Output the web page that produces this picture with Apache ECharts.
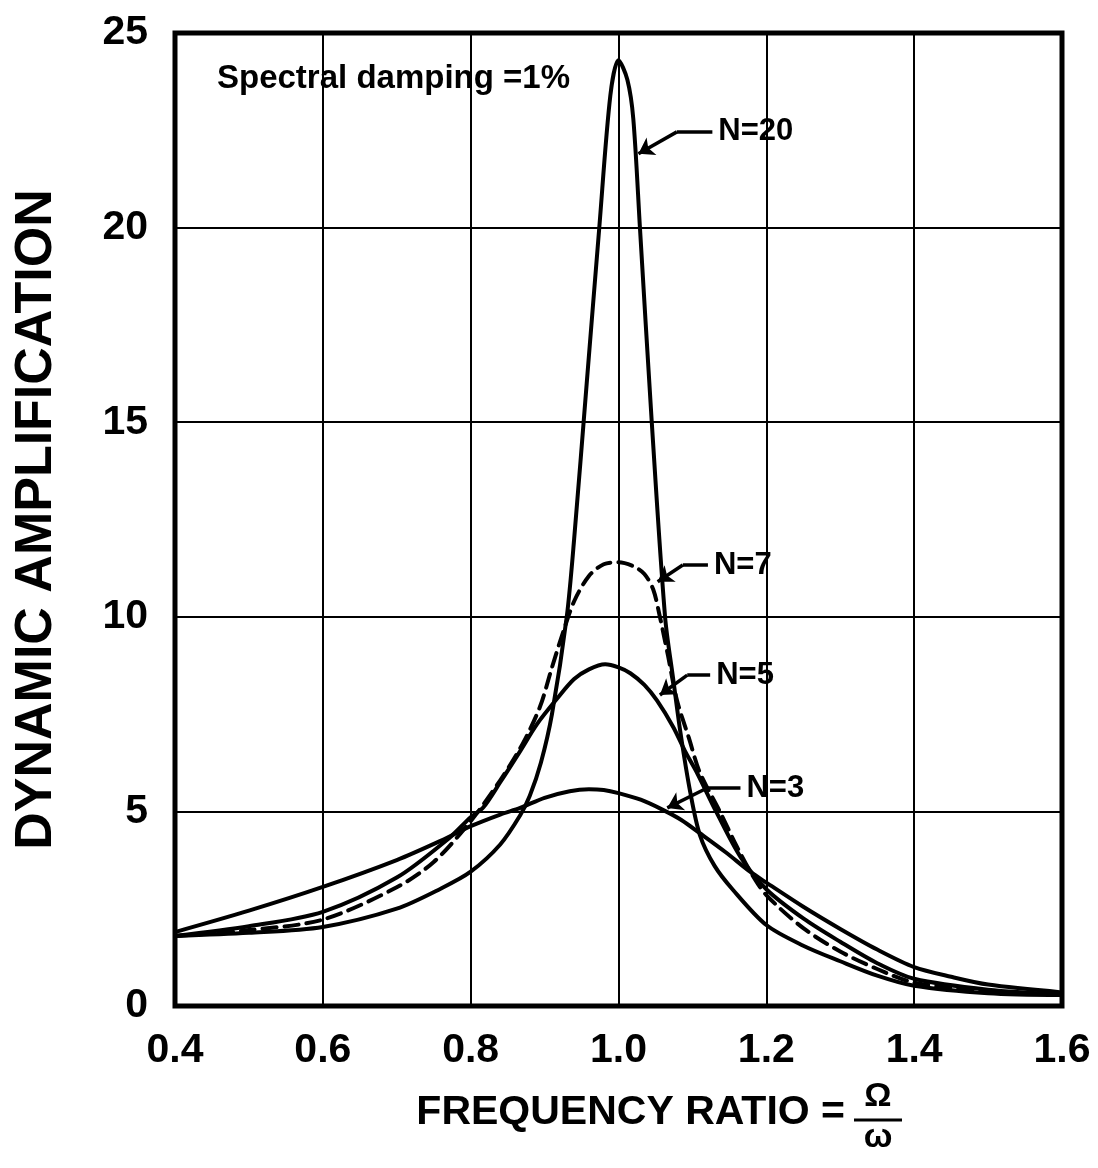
<!DOCTYPE html>
<html>
<head>
<meta charset="utf-8">
<script src="https://cdn.jsdelivr.net/npm/echarts@6/dist/echarts.min.js"></script>
<style>
html,body{margin:0;padding:0;background:#fff;}
#c{width:1098px;height:1168px;}
</style>
</head>
<body>
<div id="c"></div>
<script>
// ---- data ----
const xTicks = [0.4, 0.6, 0.8, 1.0, 1.2, 1.4, 1.6];
const yTicks = [0, 5, 10, 15, 20, 25];

const n20 = [[0.40,1.80],[0.50,1.88],[0.60,2.03],[0.70,2.50],[0.76,3.02],[0.80,3.45],[0.84,4.15],[0.867,4.9],[0.88,5.4],[0.895,6.25],[0.91,7.5],[0.93,10.0],[0.94,12.0],[0.957,16.0],[0.974,20.0],[0.989,23.4],[1.0,24.3],[1.012,23.8],[1.02,22.8],[1.029,20.0],[1.045,15.0],[1.063,10.0],[1.074,8.4],[1.084,7.0],[1.097,5.5],[1.11,4.4],[1.13,3.6],[1.155,2.98],[1.2,2.08],[1.25,1.55],[1.3,1.15],[1.35,0.78],[1.4,0.52],[1.5,0.33],[1.6,0.28]];

const n7 = [[0.40,1.80],[0.50,1.95],[0.60,2.22],[0.70,3.05],[0.75,3.7],[0.80,4.75],[0.84,5.8],[0.871,6.76],[0.894,7.7],[0.91,8.7],[0.925,9.6],[0.94,10.4],[0.96,11.05],[0.98,11.35],[1.0,11.4],[1.02,11.3],[1.035,11.1],[1.047,10.7],[1.056,10.0],[1.067,9.0],[1.079,7.86],[1.095,6.9],[1.11,6.0],[1.137,5.0],[1.16,4.1],[1.18,3.4],[1.2,2.85],[1.25,2.0],[1.3,1.4],[1.35,0.95],[1.4,0.6],[1.5,0.38],[1.6,0.3]];

const n5 = [[0.40,1.80],[0.50,2.05],[0.60,2.42],[0.70,3.3],[0.77,4.3],[0.80,4.85],[0.817,5.1],[0.84,5.75],[0.867,6.55],[0.89,7.25],[0.917,7.9],[0.94,8.4],[0.96,8.65],[0.982,8.78],[1.0,8.7],[1.016,8.55],[1.035,8.25],[1.052,7.85],[1.074,7.17],[1.09,6.55],[1.106,6.0],[1.133,4.96],[1.165,3.83],[1.2,3.0],[1.25,2.25],[1.3,1.65],[1.35,1.1],[1.4,0.7],[1.5,0.42],[1.6,0.3]];

const n3 = [[0.40,1.90],[0.50,2.45],[0.60,3.06],[0.70,3.75],[0.76,4.25],[0.80,4.62],[0.84,4.92],[0.867,5.09],[0.90,5.35],[0.934,5.52],[0.96,5.57],[0.98,5.55],[1.0,5.47],[1.03,5.3],[1.06,5.04],[1.085,4.78],[1.11,4.44],[1.145,3.95],[1.178,3.45],[1.2,3.17],[1.25,2.55],[1.3,1.98],[1.35,1.45],[1.4,1.0],[1.45,0.75],[1.5,0.55],[1.6,0.35]];

// annotation leaders: label anchor, elbow, arrow tip (data coords)
const labelNames = ['N=20', 'N=7', 'N=5', 'N=3'];
const leaderPaths = [
  [[1.127,22.46],[1.079,22.46],[1.027,21.9]],
  [[1.121,11.33],[1.087,11.33],[1.053,10.9]],
  [[1.124,8.5],[1.093,8.5],[1.056,7.99]],
  [[1.165,5.6],[1.12,5.6],[1.066,5.09]]
];

const FONT = '"Liberation Sans", Arial, Helvetica, sans-serif';
const chart = echarts.init(document.getElementById('c'), null, {renderer:'canvas'});

function curve(name, data, dashed){
  return {
    name: name, type: 'line', data: data, showSymbol: false, smooth: 0.3,
    lineStyle: {color:'#000', width: 4, type: dashed ? [14, 8] : 'solid', cap:'round', join:'round'},
    z: 3, silent: true
  };
}

const option = {
  backgroundColor: '#fff',
  animation: false,
  grid: {left:175, right:36, top:33, bottom:162, containLabel:false, outerBoundsMode:'none',
    show:true, borderColor:'#000', borderWidth:5, backgroundColor:'transparent'},
  xAxis: {
    type:'value', min: xTicks[0], max: xTicks[xTicks.length-1], interval: 0.2,
    axisLine:{show:false}, axisTick:{show:false},
    splitLine:{show:true, lineStyle:{color:'#000', width:2}},
    axisLabel:{color:'#000', fontFamily:FONT, fontWeight:'bold', fontSize:41, margin:24,
      formatter: v => (Math.round(v*10)/10).toFixed(1)}
  },
  yAxis: {
    type:'value', min: yTicks[0], max: yTicks[yTicks.length-1], interval: 5,
    axisLine:{show:false}, axisTick:{show:false},
    splitLine:{show:true, lineStyle:{color:'#000', width:2}},
    axisLabel:{color:'#000', fontFamily:FONT, fontWeight:'bold', fontSize:41, margin:27},
    name:'DYNAMIC AMPLIFICATION', nameLocation:'middle', nameGap:112, nameRotate:90,
    nameTextStyle:{color:'#000', fontFamily:FONT, fontWeight:'bold', fontSize:52}
  },
  series: [
    curve('N=20', n20, false),
    curve('N=7', n7, true),
    curve('N=5', n5, false),
    curve('N=3', n3, false),
    {
      // horizontal part of each leader
      type:'lines', coordinateSystem:'cartesian2d', silent:true,
      symbol:['none','none'],
      lineStyle:{color:'#000', width:3.5, opacity:1, curveness:0},
      data: leaderPaths.map(p => ({coords: [p[0], p[1]]})), z:4
    },
    {
      // slanted part ending in an arrow head
      type:'lines', coordinateSystem:'cartesian2d', silent:true,
      symbol:['none','arrow'], symbolSize:15,
      lineStyle:{color:'#000', width:3.5, opacity:1, curveness:0},
      data: leaderPaths.map(p => ({coords: [p[1], p[2]]})), z:4
    },
    {
      type:'scatter', symbolSize:0, silent:true, itemStyle:{opacity:1},
      data: leaderPaths.map((p,i) => ({value: p[0], name: labelNames[i]})),
      label:{show:true, position:'right', distance:6, formatter: d => d.name, opacity:1,
        color:'#000', fontFamily:FONT, fontWeight:'bold', fontSize:31, textBorderWidth:0}
    }
  ],
  graphic: [
    {type:'text', left:217, top:62, style:{text:'Spectral damping =1%', fill:'#000', font:'bold 33px '+FONT}},
    {type:'text', x:845, y:1113, style:{text:'FREQUENCY RATIO =', fill:'#000', font:'bold 41px '+FONT, textAlign:'right', textVerticalAlign:'middle'}},
    {type:'text', x:878, y:1097, style:{text:'Ω', fill:'#000', font:'bold 34px '+FONT, textAlign:'center', textVerticalAlign:'middle'}},
    {type:'line', shape:{x1:854, y1:1120, x2:902, y2:1120}, style:{stroke:'#000', lineWidth:3}},
    {type:'text', x:878, y:1138, style:{text:'ω', fill:'#000', font:'bold 34px '+FONT, textAlign:'center', textVerticalAlign:'middle'}}
  ]
};
chart.setOption(option);
</script>
</body>
</html>
